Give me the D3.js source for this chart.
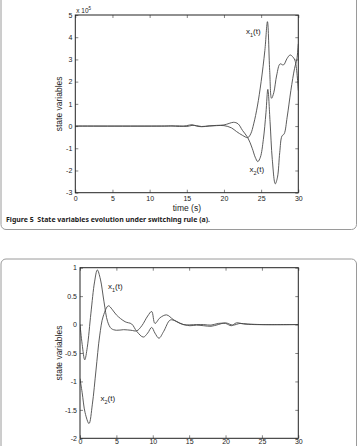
<!DOCTYPE html>
<html>
<head>
<meta charset="utf-8">
<script src="https://cdn.jsdelivr.net/npm/d3@7"></script>
<style>
  body { margin: 0; background: #fff; }
  svg { display: block; }
</style>
</head>
<body>
<div id="chart"></div>
<script>
// panel (a): values in units of 1e5
var topX1 = [[0,0],[12,0],[13,0.01],[14,-0.02],[15,0.02],[15.7,0.06],[16.3,0.0],[17,-0.03],[18,0.0],[19,0.02],[20,0.02],
  [21,-0.08],[21.7,-0.25],[22.5,-0.42],[23.2,-0.52],[23.6,-0.35],[24.0,0.1],[24.5,0.9],[25.0,2.0],[25.5,3.4],[25.85,4.7],
  [26.15,2.5],[26.4,1.25],[26.7,1.5],[27.1,2.3],[27.55,2.8],[28.0,2.75],[28.5,3.05],[28.9,3.2],[29.3,3.1],[29.6,2.9],[30,1.6]];
var topX2 = [[0,0],[12,0],[13,0],[14,0.01],[15,-0.02],[15.7,0.03],[16.3,0.02],[17,-0.02],[18,0.01],[19,0.03],[20,0.05],
  [20.7,0.12],[21.3,0.17],[21.9,0.1],[22.5,-0.2],[23.2,-0.52],[23.8,-1.0],[24.2,-1.4],[24.55,-1.6],[24.9,-1.4],[25.3,-0.6],
  [25.65,0.6],[25.9,1.65],[26.2,0.2],[26.5,-1.5],[26.9,-2.6],[27.2,-2.3],[27.5,-1.2],[27.8,-0.45],[28.1,-0.35],[28.5,0.4],
  [29.0,1.6],[29.5,2.6],[29.8,3.0],[30,3.7]];

// panel (b)
var botX1 = [[0,0.0],[0.3,-0.35],[0.65,-0.62],[1.0,-0.4],[1.5,0.2],[2.0,0.75],[2.38,0.96],[2.8,0.8],[3.3,0.4],[3.8,0.05],
  [4.3,-0.07],[5.0,-0.1],[6.0,-0.09],[7.0,-0.1],[7.8,-0.11],[8.5,-0.02],[9.3,0.15],[9.85,0.23],[10.3,0.02],[11.0,0.12],
  [11.9,0.17],[12.8,0.09],[13.75,0.02],[15.1,-0.02],[16,-0.01],[17,-0.02],[18,-0.03],[19,0.0],[20,0.03],[21,-0.01],
  [22,0.02],[23,0.01],[25,0.0],[30,0.0]];
var botX2 = [[0,-0.95],[0.3,-1.2],[0.7,-1.55],[1.24,-1.74],[1.7,-1.4],[2.2,-0.8],[2.7,-0.2],[3.2,0.15],[3.9,0.33],[4.4,0.27],
  [5.0,0.17],[6.2,0.05],[7.1,0.01],[7.8,-0.12],[8.7,-0.22],[9.3,-0.15],[9.85,-0.05],[10.3,-0.15],[10.85,-0.24],[11.5,-0.12],
  [12.4,0.08],[13.2,0.06],[14.2,0.0],[16,0.0],[17,0.0],[18,-0.01],[19,0.02],[20,0.02],[20.8,-0.02],[21.5,0.03],[22.5,0.01],
  [24,0.0],[30,0.0]];

var timeTicks = [0,5,10,15,20,25,30];
var topYTicks = [-3,-2,-1,0,1,2,3,4,5];
var botYTicks = [-2,-1.5,-1,-0.5,0,0.5,1];

var W = 361, H = 446;
var svg = d3.select("#chart").append("svg").attr("width", W).attr("height", H);

// cards
svg.append("rect").attr("x", 1).attr("y", -20).attr("width", 355.5).attr("height", 249.5)
  .attr("rx", 5).attr("fill", "none").attr("stroke", "#9a9a9a").attr("stroke-width", 1);
svg.append("rect").attr("x", 1).attr("y", 259).attr("width", 355.5).attr("height", 220)
  .attr("rx", 5).attr("fill", "none").attr("stroke", "#9a9a9a").attr("stroke-width", 1);

function panel(box, yDomain, yTicks, x1, x2, lab1, lab2, scaleNote, xPad, showXLabel){
  var x = d3.scaleLinear().domain([0,30]).range([box.left, box.right]);
  var y = d3.scaleLinear().domain(yDomain).range([box.bottom, box.top]);
  var g = svg.append("g").attr("font-family", "'Liberation Sans', Arial, sans-serif");

  var id = "clip" + Math.round(box.top);
  svg.append("clipPath").attr("id", id).append("rect")
    .attr("x", box.left).attr("y", box.top).attr("width", box.right - box.left).attr("height", box.bottom - box.top);

  var line = d3.line().x(function(d){ return x(d[0]); }).y(function(d){ return y(d[1]); })
    .curve(d3.curveCatmullRom.alpha(0.5));
  [x1, x2].forEach(function(s){
    g.append("path").datum(s).attr("d", line).attr("clip-path", "url(#" + id + ")")
      .attr("fill", "none").attr("stroke", "#4a4a4a").attr("stroke-width", 0.9);
  });

  var fmt = function(d){ return String(d); };
  var xb = g.append("g").attr("transform", "translate(0," + box.bottom + ")")
    .call(d3.axisBottom(x).tickValues(timeTicks).tickSize(-3).tickSizeOuter(0).tickPadding(xPad).tickFormat(fmt));
  var xt = g.append("g").attr("transform", "translate(0," + box.top + ")")
    .call(d3.axisTop(x).tickValues(timeTicks).tickSize(-3).tickSizeOuter(0).tickFormat(""));
  var yl = g.append("g").attr("transform", "translate(" + box.left + ",0)")
    .call(d3.axisLeft(y).tickValues(yTicks).tickSize(-3).tickSizeOuter(0).tickPadding(3).tickFormat(fmt));
  var yr = g.append("g").attr("transform", "translate(" + box.right + ",0)")
    .call(d3.axisRight(y).tickValues(yTicks).tickSize(-3).tickSizeOuter(0).tickFormat(""));
  [xb, xt, yl, yr].forEach(function(a){
    a.attr("font-family", null).attr("font-size", 7);
    a.select(".domain").remove();
    a.selectAll("line").attr("stroke", "#333").attr("stroke-width", 0.6);
    a.selectAll("text").attr("fill", "#222");
  });

  g.append("rect").attr("x", box.left).attr("y", box.top)
    .attr("width", box.right - box.left).attr("height", box.bottom - box.top)
    .attr("fill", "none").attr("stroke", "#222").attr("stroke-width", 1);

  // the lower panel's x label falls below the photographed area
  if (showXLabel) {
    g.append("text").attr("x", (box.left + box.right) / 2).attr("y", box.bottom + 18.5)
      .attr("text-anchor", "middle").attr("font-size", 8.5).attr("fill", "#222").text("time (s)");
  }
  g.append("text").attr("transform", "translate(62," + ((box.top + box.bottom) / 2) + ") rotate(-90)")
    .attr("text-anchor", "middle").attr("font-size", 8.5).attr("fill", "#222").text("state variables");

  [lab1, lab2].forEach(function(l){
    var t = g.append("text").attr("x", l.x).attr("y", l.y).attr("font-size", 8).attr("fill", "#222");
    t.append("tspan").text("x");
    t.append("tspan").attr("font-size", 5.5).attr("dy", 2.5).text(l.sub);
    t.append("tspan").attr("dy", -2.5).text("(t)");
  });

  if (scaleNote) {
    var n = g.append("text").attr("x", box.left + 1).attr("y", box.top - 2.5).attr("font-size", 6.5).attr("fill", "#222");
    n.append("tspan").text("x 10");
    n.append("tspan").attr("font-size", 4.5).attr("dy", -3).text("5");
  }
}

panel({left: 75.3, right: 298.3, top: 15, bottom: 192.7}, [-3,5], topYTicks, topX1, topX2,
  {x: 246, y: 34, sub: "1"}, {x: 249.5, y: 172, sub: "2"}, true, 3, true);
panel({left: 80, right: 298.3, top: 267.7, bottom: 438.3}, [-2,1], botYTicks, botX1, botX2,
  {x: 108, y: 289, sub: "1"}, {x: 100.5, y: 401, sub: "2"}, false, 0.5, false);

svg.append("text").attr("x", 6).attr("y", 221.5)
  .attr("font-family", "'Noto Sans', 'Open Sans', sans-serif").attr("font-weight", "bold")
  .attr("font-size", 7).attr("fill", "#222").attr("textLength", 204).attr("lengthAdjust", "spacingAndGlyphs")
  .attr("xml:space", "preserve")
  .text("Figure 5  State variables evolution under switching rule (a).");
</script>
</body>
</html>
